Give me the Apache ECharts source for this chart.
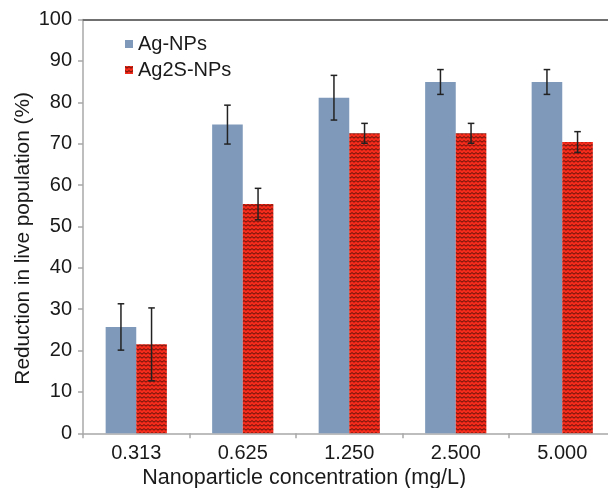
<!DOCTYPE html>
<html>
<head>
<meta charset="utf-8">
<script src="https://cdn.jsdelivr.net/npm/echarts@6/dist/echarts.min.js"></script>
<style>
html,body{margin:0;padding:0;background:#fff;}
#chart{width:608px;height:488px;}
</style>
</head>
<body>
<div id="chart"></div>
<script>
var categories = ['0.313', '0.625', '1.250', '2.500', '5.000'];
var seriesNames = ['Ag-NPs', 'Ag2S-NPs'];
var agValues = [25.7, 74.6, 81.1, 84.9, 84.9];
var agErrors = [5.6, 4.7, 5.4, 3.0, 3.0];
var ag2sValues = [21.5, 55.4, 72.5, 72.5, 70.4];
var ag2sErrors = [8.8, 3.8, 2.4, 2.4, 2.5];
var yTicks = [0, 10, 20, 30, 40, 50, 60, 70, 80, 90, 100];

var FONT = "'Liberation Sans', Arial, sans-serif";
var BAR_W = 30.6;

function zigzagPattern() {
  var c = document.createElement('canvas');
  c.width = 4; c.height = 4;
  var g = c.getContext('2d');
  g.fillStyle = '#f22b1b';
  g.fillRect(0, 0, 4, 4);
  g.strokeStyle = '#4a0f08';
  g.lineWidth = 0.9;
  g.beginPath();
  g.moveTo(0, 0.6); g.lineTo(2, 2.2); g.lineTo(4, 0.6);
  g.stroke();
  return c;
}

function errData(vals, errs) {
  return vals.map(function (v, i) { return [i, v - errs[i], v + errs[i]]; });
}

function errRenderer(offset) {
  return function (params, api) {
    var idx = api.value(0);
    var lo = api.coord([idx, api.value(1)]);
    var hi = api.coord([idx, api.value(2)]);
    var x = lo[0] + offset;
    var cap = 3.3;
    var style = { stroke: '#222', lineWidth: 1.5 };
    return {
      type: 'group',
      children: [
        { type: 'line', shape: { x1: x, y1: lo[1], x2: x, y2: hi[1] }, style: style },
        { type: 'line', shape: { x1: x - cap, y1: lo[1], x2: x + cap, y2: lo[1] }, style: style },
        { type: 'line', shape: { x1: x - cap, y1: hi[1], x2: x + cap, y2: hi[1] }, style: style }
      ]
    };
  };
}

var chart = echarts.init(document.getElementById('chart'), null, { renderer: 'canvas' });
var redPattern = { image: zigzagPattern(), repeat: 'repeat' };

chart.setOption({
  animation: false,
  backgroundColor: '#fff',
  textStyle: { fontFamily: FONT },
  grid: { left: 83, right: -7.5, top: 19.5, bottom: 54.7, containLabel: false, outerBoundsMode: 'none' },
  legend: {
    orient: 'vertical',
    left: 120,
    top: 29,
    itemWidth: 8,
    itemHeight: 8,
    itemGap: 6,
    icon: 'rect',
    data: seriesNames,
    textStyle: { fontFamily: FONT, fontSize: 20, color: '#1a1a1a', lineHeight: 20 }
  },
  xAxis: [{
    type: 'category',
    data: categories,
    position: 'bottom',
    name: 'Nanoparticle concentration (mg/L)',
    nameLocation: 'middle',
    nameGap: 34,
    nameMoveOverlap: false,
    nameTextStyle: { fontFamily: FONT, fontSize: 21.5, color: '#1a1a1a', padding: [0, 90, 0, 0] },
    axisLine: { lineStyle: { color: '#a8a8a8', width: 1.5 } },
    axisTick: { show: true, length: 5, lineStyle: { color: '#a8a8a8', width: 1.5 } },
    axisLabel: { fontFamily: FONT, fontSize: 20, color: '#1a1a1a', margin: 10 },
    splitLine: { show: false }
  }, {
    type: 'category',
    data: categories,
    position: 'top',
    axisLine: { lineStyle: { color: '#707070', width: 2 } },
    axisTick: { show: false },
    axisLabel: { show: false },
    splitLine: { show: false }
  }],
  yAxis: {
    type: 'value',
    min: yTicks[0],
    max: yTicks[yTicks.length - 1],
    interval: 10,
    name: 'Reduction in live population (%)',
    nameLocation: 'middle',
    nameGap: 49,
    nameMoveOverlap: false,
    nameTextStyle: { fontFamily: FONT, fontSize: 20.8, color: '#1a1a1a', padding: [0, 24, 0, 0] },
    axisLine: { show: true, lineStyle: { color: '#a8a8a8', width: 1.5 } },
    axisTick: { show: true, length: 5, lineStyle: { color: '#a8a8a8', width: 1.5 } },
    axisLabel: { fontFamily: FONT, fontSize: 20, color: '#1a1a1a', margin: 11 },
    splitLine: { show: false }
  },
  series: [{
    name: seriesNames[0],
    type: 'bar',
    data: agValues,
    barWidth: BAR_W,
    barGap: '0%',
    itemStyle: { color: '#7e99ba' }
  }, {
    name: seriesNames[1],
    type: 'bar',
    data: ag2sValues,
    barWidth: BAR_W,
    barGap: '0%',
    itemStyle: { color: redPattern }
  }, {
    type: 'custom',
    name: 'err-ag',
    data: errData(agValues, agErrors),
    encode: { x: 0, y: [1, 2] },
    renderItem: errRenderer(-BAR_W / 2),
    z: 10
  }, {
    type: 'custom',
    name: 'err-ag2s',
    data: errData(ag2sValues, ag2sErrors),
    encode: { x: 0, y: [1, 2] },
    renderItem: errRenderer(BAR_W / 2),
    z: 10
  }]
});
</script>
</body>
</html>
